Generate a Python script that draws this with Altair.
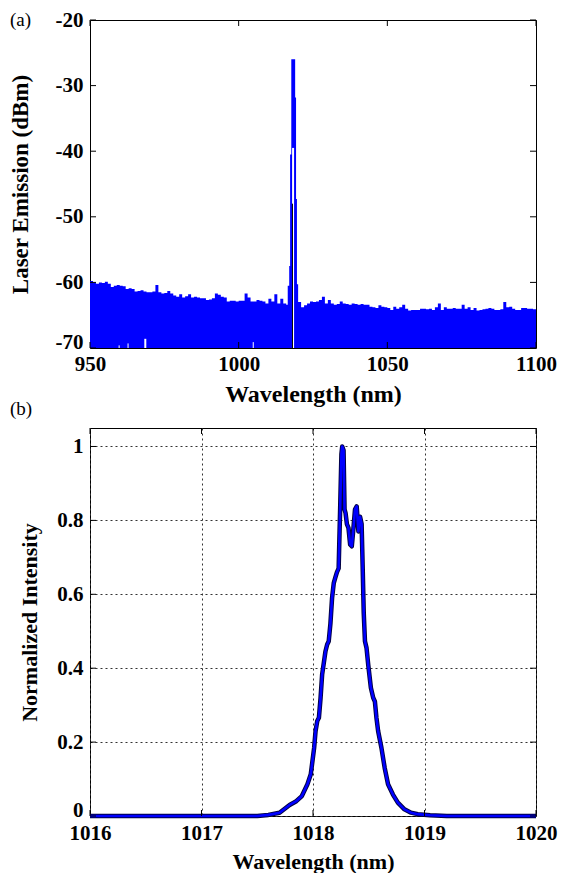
import altair as alt
import pandas as pd

# ---------------- Panel (a): laser emission spectrum (dBm) ----------------
wl_a = [950, 951, 952, 953, 954, 955, 956, 957, 958, 959, 960, 961, 962, 963, 964,
        965, 966, 967, 968, 969, 970, 971, 972, 973, 974, 975, 976, 977, 978, 979,
        980, 981, 982, 983, 984, 985, 986, 987, 988, 989, 990, 991, 992, 993, 994,
        995, 996, 997, 998, 999, 1000, 1001, 1002, 1003, 1004, 1005, 1006, 1007,
        1008, 1009, 1010, 1011, 1012, 1013, 1014, 1015, 1016, 1016.5, 1017.0,
        1017.3, 1017.7, 1019.0, 1019.3, 1019.6, 1020, 1021, 1022, 1023, 1024, 1025,
        1026, 1027, 1028, 1029, 1030, 1031, 1032, 1033, 1034, 1035, 1036, 1037,
        1038, 1039, 1040, 1041, 1042, 1043, 1044, 1045, 1046, 1047, 1048, 1049,
        1050, 1051, 1052, 1053, 1054, 1055, 1056, 1057, 1058, 1059, 1060, 1061,
        1062, 1063, 1064, 1065, 1066, 1067, 1068, 1069, 1070, 1071, 1072, 1073,
        1074, 1075, 1076, 1077, 1078, 1079, 1080, 1081, 1082, 1083, 1084, 1085,
        1086, 1087, 1088, 1089, 1090, 1091, 1092, 1093, 1094, 1095, 1096, 1097,
        1098, 1099, 1100]
db_a = [-59.8, -60.0, -60.2, -60.0, -60.1, -59.9, -60.2, -60.7, -60.5, -60.4, -60.5,
        -60.6, -61.0, -60.9, -61.0, -61.4, -61.3, -61.2, -61.4, -61.5, -61.5, -61.4,
        -60.4, -61.5, -61.7, -61.6, -61.3, -61.7, -62.0, -62.2, -61.8, -62.3, -62.1,
        -61.8, -62.3, -62.2, -62.3, -62.4, -62.4, -62.7, -62.6, -62.4, -61.7, -61.9,
        -62.2, -62.3, -62.9, -62.8, -62.8, -62.9, -62.8, -62.8, -61.7, -62.3, -62.9,
        -62.9, -62.7, -62.8, -62.9, -63.2, -62.5, -62.9, -61.8, -63.2, -62.5, -63.2,
        -63.4, -60.5, -57.5, -40.5, -26.0, -31.8, -47.3, -60.3, -63.0, -63.8, -63.5,
        -63.2, -62.9, -63.0, -62.9, -62.7, -62.2, -63.2, -62.7, -63.2, -63.4, -63.3,
        -62.9, -63.2, -63.3, -63.4, -63.2, -63.3, -63.4, -63.3, -63.4, -63.4, -63.7,
        -63.8, -63.9, -63.5, -63.7, -63.8, -63.9, -64.2, -63.7, -64.0, -63.8, -63.4,
        -64.0, -64.3, -64.2, -64.2, -64.2, -64.0, -64.0, -64.1, -64.0, -64.2, -63.8,
        -63.2, -64.2, -63.8, -64.0, -64.0, -63.9, -64.0, -64.0, -63.4, -64.0, -63.8,
        -64.2, -63.9, -64.3, -64.2, -64.1, -64.0, -63.9, -64.0, -64.2, -64.2, -64.1,
        -63.0, -63.8, -63.7, -64.0, -64.2, -64.2, -63.9, -63.9, -64.0, -64.0, -64.1,
        -64.1]
FLOOR_A = -70

# white gaps at the bottom of the noise floor, and the white slit inside the peak
gap_wl = [959.8, 962.8, 968.6, 1004.9, 1018.3]
gap_top = [-69.6, -69.3, -68.6, -69.1, -39.5]
gap_w = [1, 1, 2, 1, 2]
# thin dark edge inside the peak
edge_wl = [1018.1]
edge_top = [-48.0]

a_xticks = [950, 1000, 1050, 1100]
a_yticks = [-70, -60, -50, -40, -30, -20]

# ---------------- Panel (b): normalized intensity ----------------
wl_b = [1016.0, 1017.5, 1017.6, 1017.7, 1017.79, 1017.85, 1017.9, 1017.95, 1017.98,
        1018.01, 1018.023, 1018.038, 1018.053, 1018.068, 1018.082, 1018.112,
        1018.127, 1018.141, 1018.156, 1018.171, 1018.186, 1018.2, 1018.215,
        1018.23, 1018.245, 1018.255, 1018.262, 1018.274, 1018.283, 1018.292,
        1018.304, 1018.318, 1018.333, 1018.348, 1018.363, 1018.377, 1018.392,
        1018.407, 1018.422, 1018.436, 1018.445, 1018.455, 1018.466, 1018.48,
        1018.495, 1018.519, 1018.54, 1018.555, 1018.569, 1018.584, 1018.614,
        1018.643, 1018.673, 1018.717, 1018.761, 1018.82, 1018.879, 1018.94,
        1019.05, 1019.2, 1020.0]
int_b = [0.0, 0.0, 0.003, 0.009, 0.03, 0.04, 0.054, 0.086, 0.113, 0.184, 0.23, 0.257,
         0.266, 0.32, 0.383, 0.446, 0.464, 0.473, 0.52, 0.59, 0.63, 0.645, 0.66,
         0.67, 0.85, 0.98, 1.0, 0.99, 0.83, 0.82, 0.79, 0.78, 0.735, 0.73, 0.78,
         0.83, 0.838, 0.77, 0.81, 0.79, 0.68, 0.55, 0.473, 0.455, 0.41, 0.347,
         0.32, 0.31, 0.266, 0.23, 0.184, 0.13, 0.086, 0.058, 0.036, 0.018, 0.009,
         0.005, 0.002, 0.0, 0.0]

b_xticks = [1016, 1017, 1018, 1019, 1020]
b_yticks = [0, 0.2, 0.4, 0.6, 0.8, 1]

FONT = "Liberation Serif"
BLUE = "#0000ff"
W = 446
HA = 328
HB = 388
TK = 6
PLAIN = "'' + datum.value"   # hyphen-minus like the original

# ---------- panel (a) ----------
df_a = pd.DataFrame({"wl": wl_a, "db": db_a})
df_a["base"] = FLOOR_A
df_gap = pd.DataFrame({"wl": gap_wl, "top": gap_top, "w": gap_w})
df_gap["base"] = FLOOR_A
df_edge = pd.DataFrame({"wl": edge_wl, "top": edge_top})
df_edge["base"] = FLOOR_A
xs_a = alt.Scale(domain=[950, 1100], nice=False, zero=False)
ys_a = alt.Scale(domain=[-70, -20], nice=False, zero=False)

ax_xa = alt.Axis(values=a_xticks, labelExpr=PLAIN, title="Wavelength (nm)", grid=False,
                 labelFlush=False, labelFontSize=21, titleFontSize=24, labelPadding=5,
                 titlePadding=8)
ax_ya = alt.Axis(values=a_yticks, labelExpr=PLAIN, title="Laser Emission (dBm)",
                 grid=False, labelFontSize=21, titleFontSize=23, labelPadding=7,
                 minExtent=42, maxExtent=42, titlePadding=16,
                 labelBaseline=alt.condition(f"datum.value == {a_yticks[0]}",
                                             alt.value("alphabetic"), alt.value("middle")))

area_a = alt.Chart(df_a).mark_area(interpolate="step-after", color=BLUE).encode(
    x=alt.X("wl:Q", scale=xs_a, axis=ax_xa),
    y=alt.Y("db:Q", scale=ys_a, axis=ax_ya),
    y2=alt.Y2("base:Q"),
)
gaps_a = alt.Chart(df_gap).mark_rule(color="white").encode(
    x=alt.X("wl:Q", scale=xs_a, axis=ax_xa),
    y=alt.Y("base:Q", scale=ys_a, axis=ax_ya),
    y2=alt.Y2("top:Q"),
    strokeWidth=alt.StrokeWidth("w:Q", legend=None, scale=None),
)
edge_a = alt.Chart(df_edge).mark_rule(color="black", strokeWidth=1).encode(
    x=alt.X("wl:Q", scale=xs_a, axis=ax_xa),
    y=alt.Y("base:Q", scale=ys_a, axis=ax_ya),
    y2=alt.Y2("top:Q"),
)
ytk_a = pd.DataFrame({"v": a_yticks})
xtk_a = pd.DataFrame({"t": a_xticks})
tl_a = alt.Chart(ytk_a).mark_rule(color="black").encode(
    y=alt.Y("v:Q", scale=ys_a, axis=ax_ya), x=alt.value(0), x2=alt.value(TK))
tr_a = alt.Chart(ytk_a).mark_rule(color="black").encode(
    y=alt.Y("v:Q", scale=ys_a, axis=ax_ya), x=alt.value(W), x2=alt.value(W - TK))
tt_a = alt.Chart(xtk_a).mark_rule(color="black").encode(
    x=alt.X("t:Q", scale=xs_a, axis=ax_xa), y=alt.value(0), y2=alt.value(TK))
tb_a = alt.Chart(xtk_a).mark_rule(color="black").encode(
    x=alt.X("t:Q", scale=xs_a, axis=ax_xa), y=alt.value(HA), y2=alt.value(HA - TK))
lab_a = alt.Chart(pd.DataFrame({"t": ["(a)"]})).mark_text(
    font=FONT, fontSize=19, align="left", baseline="middle", color="black"
).encode(text="t:N", x=alt.value(-80), y=alt.value(0))

panel_a = alt.layer(area_a, gaps_a, edge_a, tl_a, tr_a, tt_a, tb_a, lab_a).properties(
    width=W, height=HA)

# ---------- panel (b) ----------
df_b = pd.DataFrame({"wl": wl_b, "i": int_b})
xs_b = alt.Scale(domain=[1016, 1020], nice=False, zero=False)
ys_b = alt.Scale(domain=[0, 1.05], nice=False, zero=False)

ax_xb = alt.Axis(values=b_xticks, labelExpr=PLAIN, title="Wavelength (nm)",
                 labelFlush=False, labelFontSize=21, titleFontSize=22, labelPadding=6,
                 titlePadding=8, grid=True, gridDash=[2, 3],
                 gridColor="#333", gridWidth=1)
ax_yb = alt.Axis(values=b_yticks, labelExpr=PLAIN, title="Normalized Intensity",
                 labelFontSize=21, titleFontSize=22, labelPadding=7,
                 minExtent=42, maxExtent=42, titlePadding=7, grid=True,
                 gridDash=[2, 3], gridColor="#333", gridWidth=1,
                 labelBaseline=alt.condition(f"datum.value == {b_yticks[0]}",
                                             alt.value("alphabetic"), alt.value("middle")))

base_b = alt.Chart(df_b).encode(
    x=alt.X("wl:Q", scale=xs_b, axis=ax_xb),
    y=alt.Y("i:Q", scale=ys_b, axis=ax_yb),
)
line_dark = base_b.mark_line(color="#000040", strokeWidth=4.5, strokeJoin="round")
line_blue = base_b.mark_line(color=BLUE, strokeWidth=2.6, strokeJoin="round")
ytk_b = pd.DataFrame({"v": b_yticks})
xtk_b = pd.DataFrame({"t": b_xticks})
tl_b = alt.Chart(ytk_b).mark_rule(color="black").encode(
    y=alt.Y("v:Q", scale=ys_b, axis=ax_yb), x=alt.value(0), x2=alt.value(TK))
tr_b = alt.Chart(ytk_b).mark_rule(color="black").encode(
    y=alt.Y("v:Q", scale=ys_b, axis=ax_yb), x=alt.value(W), x2=alt.value(W - TK))
tt_b = alt.Chart(xtk_b).mark_rule(color="black").encode(
    x=alt.X("t:Q", scale=xs_b, axis=ax_xb), y=alt.value(0), y2=alt.value(TK))
tb_b = alt.Chart(xtk_b).mark_rule(color="black").encode(
    x=alt.X("t:Q", scale=xs_b, axis=ax_xb), y=alt.value(HB), y2=alt.value(HB - TK))
lab_b = alt.Chart(pd.DataFrame({"t": ["(b)"]})).mark_text(
    font=FONT, fontSize=19, align="left", baseline="middle", color="black"
).encode(text="t:N", x=alt.value(-80), y=alt.value(-19))

panel_b = alt.layer(line_dark, line_blue, tl_b, tr_b, tt_b, tb_b, lab_b).properties(
    width=W, height=HB)

chart = alt.vconcat(panel_a, panel_b, spacing=80, bounds="flush").properties(
    padding={"left": 0, "top": 0, "right": 0, "bottom": 0}
).configure(background="white").configure_view(
    stroke="black", strokeWidth=1
).configure_axis(
    labelFont=FONT, titleFont=FONT, labelFontWeight="bold", titleFontWeight="bold",
    labelColor="black", titleColor="black", ticks=False, domain=False,
)

chart.save("out.html", embed_options={"renderer": "svg", "actions": False})
